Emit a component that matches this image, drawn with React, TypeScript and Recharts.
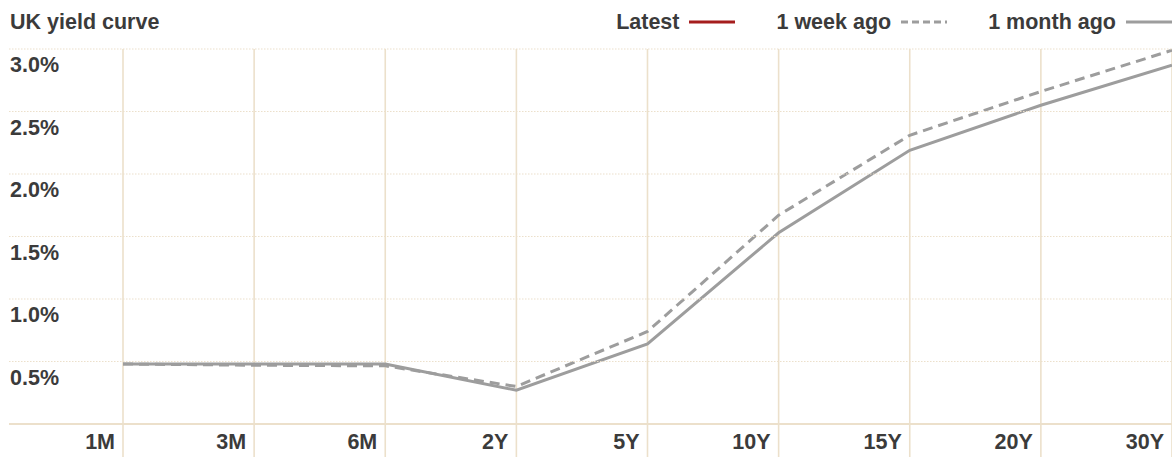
import React from 'react';
import { LineChart, Line, XAxis, YAxis, CartesianGrid } from 'recharts';

const W = 1172;
const H = 457;
const FONT = '"Liberation Sans", Arial, sans-serif';
const TEXT = '#3b3b3b';
const GRID = '#ece0cb';
const CURVE = '#9d9d9d';

// maturities along the curve
const maturities = ['1M', '3M', '6M', '2Y', '5Y', '10Y', '15Y', '20Y', '30Y'];
// gilt yields, %
const weekAgo = [0.48, 0.47, 0.465, 0.3, 0.74, 1.67, 2.31, 2.66, 2.99];
const monthAgo = [0.48, 0.48, 0.48, 0.27, 0.64, 1.53, 2.19, 2.55, 2.87];
const yTicks = [0, 0.5, 1, 1.5, 2, 2.5, 3];

const legendItems = [
  { label: 'Latest', color: '#a51d1d', dash: undefined },
  { label: '1 week ago', color: CURVE, dash: '7 4' },
  { label: '1 month ago', color: CURVE, dash: undefined },
];

const data = maturities.map((m, i) => ({
  maturity: m,
  weekAgo: weekAgo[i],
  monthAgo: monthAgo[i],
}));

// y ticks: dotted rule across the full width, label tucked underneath
function YTick({ y, payload }: any) {
  const isZero = payload.value === 0;
  const left = 10;
  return (
    <g>
      <line
        x1={left - 1}
        x2={W}
        y1={y}
        y2={y}
        stroke={GRID}
        strokeWidth={isZero ? 2 : 1.2}
        strokeDasharray={isZero ? undefined : '1.5 1.5'}
      />
      {!isZero && (
        <text x={left} y={y + 23} fill={TEXT} fontSize={21.5} fontWeight={700} fontFamily={FONT}>
          {payload.value.toFixed(1)}%
        </text>
      )}
    </g>
  );
}

// x ticks: carry the vertical rule down past the axis, label sits left of it
function XTick({ x, y, payload }: any) {
  return (
    <g>
      <line x1={x} x2={x} y1={y} y2={H} stroke={GRID} strokeWidth={1.6} />
      <text
        x={x - 8}
        y={y + 25}
        textAnchor="end"
        fill={TEXT}
        fontSize={21.5}
        fontWeight={700}
        fontFamily={FONT}
      >
        {payload.value}
      </text>
    </g>
  );
}

function Header() {
  return (
    <div
      style={{
        position: 'absolute',
        top: 0,
        left: 0,
        width: W,
        height: 44,
        display: 'flex',
        alignItems: 'center',
        fontFamily: FONT,
        fontWeight: 700,
        fontSize: 21.5,
        color: TEXT,
        zIndex: 2,
      }}
    >
      <div style={{ marginLeft: 10, flex: 1 }}>UK yield curve</div>
      {legendItems.map((it, i) => (
        <div
          key={it.label}
          style={{ display: 'flex', alignItems: 'center', marginLeft: i === 0 ? 0 : 41 }}
        >
          <span>{it.label}</span>
          <svg width={46} height={6} style={{ marginLeft: 10 }}>
            <line
              x1={0}
              x2={46}
              y1={3}
              y2={3}
              stroke={it.color}
              strokeWidth={3}
              strokeDasharray={it.dash}
            />
          </svg>
        </div>
      ))}
    </div>
  );
}

export default function App() {
  return (
    <div
      style={{
        position: 'absolute',
        top: 0,
        left: 0,
        width: W,
        height: H,
        background: '#fff',
        overflow: 'hidden',
      }}
    >
      <Header />
      <LineChart
        width={W}
        height={H}
        data={data}
        margin={{ top: 49, right: 0, bottom: 0, left: 0 }}
      >
        <CartesianGrid horizontal={false} stroke={GRID} strokeWidth={1.6} />
        <YAxis
          type="number"
          domain={[0, 3]}
          ticks={yTicks}
          width={123}
          axisLine={false}
          tickLine={false}
          tickSize={0}
          tickMargin={0}
          tick={<YTick />}
          interval={0}
        />
        <XAxis
          dataKey="maturity"
          height={33}
          axisLine={false}
          tickLine={false}
          tickSize={0}
          tickMargin={0}
          tick={<XTick />}
          interval={0}
        />
        <Line
          dataKey="monthAgo"
          stroke={CURVE}
          strokeWidth={3}
          dot={false}
          activeDot={false}
          isAnimationActive={false}
        />
        <Line
          dataKey="weekAgo"
          stroke={CURVE}
          strokeWidth={3}
          strokeDasharray="10 6"
          dot={false}
          activeDot={false}
          isAnimationActive={false}
        />
      </LineChart>
    </div>
  );
}
